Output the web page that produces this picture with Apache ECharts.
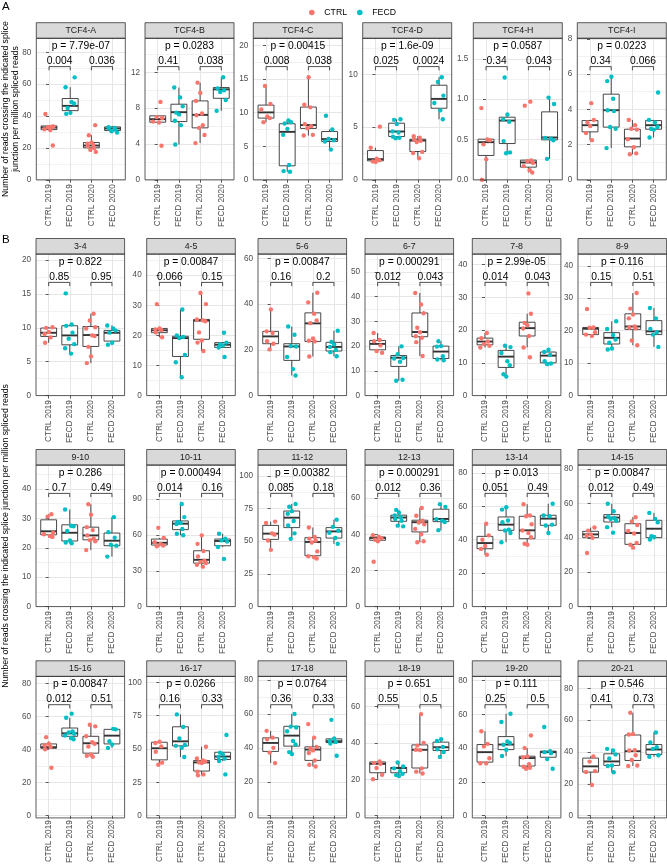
<!DOCTYPE html>
<html><head><meta charset="utf-8">
<script src="https://cdn.jsdelivr.net/npm/echarts@6/dist/echarts.min.js"></script>
<style>html,body{margin:0;padding:0;background:#fff}#c{width:667px;height:866px}</style>
</head><body><div id="c"></div>
<script>
// ---------------- DATA ----------------
const groups = ['CTRL 2019', 'FECD 2019', 'CTRL 2020', 'FECD 2020'];
const groupCond = ['CTRL', 'FECD', 'CTRL', 'FECD'];
const panelTitles = ['TCF4-A','TCF4-B','TCF4-C','TCF4-D','TCF4-H','TCF4-I',
  '3-4','4-5','5-6','6-7','7-8','8-9',
  '9-10','10-11','11-12','12-13','13-14','14-15',
  '15-16','16-17','17-18','18-19','19-20','20-21'];
const yMax = [88.8,15.8,21.1,13.45,1.756,8.03,
  20.9,47,61.9,57.2,43.2,43.6,
  48.1,118.6,108.2,78.3,84.6,82.3,
  84.2,104.5,82.1,76.5,82.4,87.5];
const yTicks = [[0,20,40,60,80],[0,4,8,12],[0,5,10,15,20],[0,5,10],[0,0.5,1,1.5],[0,2,4,6,8],
  [0,5,10,15,20],[0,10,20,30,40],[0,20,40,60],[0,10,20,30,40,50],[0,10,20,30,40],[0,10,20,30,40],
  [0,10,20,30,40],[0,30,60,90],[0,25,50,75,100],[0,20,40,60],[0,20,40,60,80],[0,20,40,60,80],
  [0,20,40,60,80],[0,25,50,75,100],[0,20,40,60,80],[0,20,40,60],[0,20,40,60,80],[0,20,40,60,80]];
const yTickDecimals = [0,0,0,0,1,0, 0,0,0,0,0,0, 0,0,0,0,0,0, 0,0,0,0,0,0];
const pOverall = ['p = 7.79e-07','p = 0.0283','p = 0.00415','p = 1.6e-09','p = 0.0587','p = 0.0223',
  'p = 0.822','p = 0.00847','p = 0.00847','p = 0.000291','p = 2.99e-05','p = 0.116',
  'p = 0.286','p = 0.000494','p = 0.00382','p = 0.000291','p = 0.013','p = 0.00847',
  'p = 0.00847','p = 0.0266','p = 0.0764','p = 0.651','p = 0.111','p = 0.546'];
const p2019 = ['0.004','0.41','0.008','0.025','0.34','0.34',
  '0.85','0.066','0.16','0.012','0.014','0.15',
  '0.7','0.014','0.085','0.012','0.051','0.012',
  '0.012','0.16','0.36','0.55','0.25','0.41'];
const p2020 = ['0.036','0.038','0.038','0.0024','0.043','0.066',
  '0.95','0.15','0.2','0.043','0.043','0.51',
  '0.49','0.16','0.18','0.36','0.49','0.49',
  '0.51','0.33','0.33','0.5','0.5','0.73'];

// box stats per group: [lower whisker, Q1, median, Q3, upper whisker]
const box_TCF4A = [[31.2,31.5,32.8,33.8,33.8],[41.4,43.4,46.4,51.0,58.1],[17.5,20.1,21.5,23.4,28.0],[29.7,30.9,32.2,33.2,33.8]];
const pts_TCF4A = [[41.3,33.4,33.2,33.5,31.7,31.2,21.5],[64.3,58.1,48.8,47.9,45.1,42.0,41.4],[34.3,28.0,23.5,22.7,21.8,21.0,19.9,18.9,17.5],[33.0,32.5,32.2,31.5,30.5,29.7]];
const box_TCF4B = [[6.4,6.43,6.77,7.14,7.2],[3.95,6.5,7.55,8.44,10.3],[4.1,5.8,7.25,8.81,10.85],[7.7,9.1,10.1,10.3,11.45]];
const pts_TCF4B = [[8.7,7.0,6.9,6.5,6.4,3.8],[10.3,9.2,8.2,7.5,7.3,6.6,6.1,3.95],[10.85,9.7,8.8,7.4,7.2,6.1,5.8,5.0,4.1],[11.45,10.2,10.0,9.8,8.9,7.7]];
const box_TCF4C = [[8.6,9.2,10.05,11.14,14.0],[1.2,2.09,7.15,8.36,8.85],[6.6,7.66,8.16,10.85,15.3],[4.5,5.72,6.07,7.2,7.5]];
const pts_TCF4C = [[14.0,11.3,10.5,9.45,9.2,8.6],[8.85,8.6,8.4,7.6,6.7,2.2,1.3,1.2],[15.3,11.2,10.8,8.3,8.0,7.7,6.7,6.6],[9.55,7.5,6.1,5.9,5.7,4.5]];
const box_TCF4D = [[1.7,1.8,1.96,2.78,3.05],[3.95,4.11,4.59,5.38,5.75],[2.05,2.69,3.73,3.86,4.15],[5.75,6.8,7.69,8.99,9.75]];
const pts_TCF4D = [[5.05,3.05,2.0,1.85,1.75,1.7],[5.75,5.7,5.3,4.6,4.5,4.1,4.0,3.95],[4.15,4.0,3.8,3.7,3.6,2.65,2.55,2.05],[9.75,9.3,8.0,7.3,6.6,5.75]];
const box_TCF4H = [[0.0,0.302,0.467,0.504,0.504],[0.33,0.45,0.735,0.777,0.81],[0.09,0.157,0.215,0.244,0.244],[0.26,0.496,0.525,0.843,1.02]];
const pts_TCF4H = [[0.89,0.5,0.49,0.44,0.256,0.0],[1.27,0.81,0.75,0.72,0.48,0.34,0.33],[0.97,0.92,0.24,0.23,0.21,0.17,0.12,0.09],[1.02,0.94,0.52,0.51,0.49,0.26]];
const box_TCF4I = [[2.25,2.72,3.1,3.36,3.4],[1.8,2.99,3.95,4.86,5.85],[1.45,1.87,2.34,2.87,3.4],[2.4,2.87,3.1,3.36,3.4]];
const pts_TCF4I = [[4.35,3.4,3.25,3.05,2.65,2.25],[5.85,5.6,4.6,3.95,3.9,3.0,2.9,1.8],[3.4,3.1,2.9,2.85,2.3,1.85,1.5,1.45],[4.95,3.4,3.25,3.0,2.9,2.85,2.4]];

const box_3_4 = [[7.8,8.74,9.28,9.98,10.1],[6.2,7.5,8.89,10.32,10.5],[4.8,7.26,8.94,10.2,12.1],[7.5,8.05,9.28,9.63,10.35]];
const pts_3_4 = [[10.1,10.0,9.4,9.1,8.6,7.8],[15.1,10.5,10.3,9.3,8.4,7.6,7.0,6.2],[12.1,11.1,10.1,9.9,8.9,8.8,7.2,5.8,4.8],[10.35,9.9,9.6,9.3,7.8,7.5]];
const box_4_5 = [[19.4,20.9,21.7,22.3,22.8],[6.1,13.0,19.1,19.7,28.6],[14.8,18.7,24.9,25.3,34.1],[16.0,16.0,16.9,17.6,17.8]];
const pts_4_5 = [[30.4,22.3,22.0,21.8,21.0,19.4],[28.6,20.0,19.5,19.1,13.5,11.1,6.1],[34.1,30.4,25.3,25.0,24.7,21.0,18.3,17.6,14.8],[20.9,17.6,17.1,16.6,16.0,12.8]];
const box_5_6 = [[20.2,22.7,25.9,28.1,37.7],[8.8,15.4,21.5,22.7,30.2],[17.1,23.7,31.6,36.2,45.0],[17.2,19.5,21.3,23.3,28.4]];
const pts_5_6 = [[37.7,28.1,27.4,23.8,22.7,20.2],[30.2,26.6,21.7,21.5,16.9,11.6,8.8],[45.0,40.8,35.8,32.9,31.7,25.0,24.0,23.7,17.1],[28.4,23.5,22.3,21.3,20.0,19.0,17.2]];
const box_6_7 = [[17.3,18.5,20.9,22.3,25.3],[6.0,11.8,15.3,16.2,19.9],[16.0,23.8,25.7,33.4,41.5],[14.3,15.0,17.8,20.0,22.0]];
const pts_6_7 = [[25.3,22.5,22.0,20.3,18.0,17.3],[19.9,16.7,15.2,15.0,13.7,6.4,6.0],[41.5,36.8,33.3,27.4,25.6,24.0,23.4,21.6,16.0],[22.0,20.0,19.8,15.9,14.6,14.3]];
const box_7_8 = [[14.7,15.5,16.5,17.55,19.1],[5.8,8.6,11.9,13.8,15.2],[14.7,18.2,20.6,22.4,25.0],[9.6,10.0,12.2,13.3,14.0]];
const pts_7_8 = [[19.1,17.5,16.5,15.8,15.2,14.7],[15.2,14.8,13.0,10.5,9.3,6.5,5.8],[31.2,25.0,22.2,21.5,20.5,18.2,14.7,11.7],[14.0,13.3,12.4,10.5,9.8,9.6]];
const box_8_9 = [[18.4,18.8,20.6,21.0,21.0],[14.2,15.9,17.8,19.4,22.9],[15.5,20.4,21.3,25.2,31.6],[15.0,18.8,19.8,23.1,27.0]];
const pts_8_9 = [[26.7,21.0,20.9,19.5,18.8,18.4],[22.9,20.5,18.7,17.3,16.3,14.5,14.2],[31.6,26.8,25.0,23.8,21.3,21.0,20.7,17.0,15.5],[27.0,23.8,20.5,19.5,18.8,15.0]];

const box_9_10 = [[23.7,24.4,25.6,29.5,31.4],[21.5,22.3,25.1,27.8,33.0],[19.2,22.7,24.2,27.0,34.8],[17.0,20.7,22.4,25.0,30.4]];
const pts_9_10 = [[31.4,30.6,25.1,24.6,24.0,23.7],[33.0,27.5,27.3,25.7,22.5,21.8,21.5],[34.8,31.2,27.0,26.0,24.2,23.2,22.6,22.2,19.2],[30.4,25.3,23.4,21.0,20.7,17.0]];
const box_10_11 = [[50.5,51.6,53.5,56.6,57.5],[59.8,64.5,69.5,71.8,86.0],[33.5,36.4,39.2,46.8,59.7],[50.0,51.0,55.0,56.6,61.0]];
const pts_10_11 = [[66.0,57.5,53.9,52.5,51.2,50.5],[86.0,75.0,71.0,70.0,69.2,65.0,61.1,59.8],[59.7,52.6,46.5,42.0,38.5,37.5,36.6,35.0,33.5],[61.0,57.0,55.5,54.5,50.0,40.0]];
const box_11_12 = [[43.4,51.4,55.8,62.1,65.0],[51.8,60.4,68.0,73.1,78.5],[36.8,38.9,49.4,52.7,60.5],[48.0,52.4,57.5,60.4,66.5]];
const pts_11_12 = [[65.0,64.0,56.0,55.0,50.6,43.4],[78.5,76.4,73.0,71.0,65.5,62.0,56.0,51.8],[60.5,53.2,52.0,50.6,49.0,42.2,38.5,37.7,36.8],[66.5,61.0,58.0,56.5,52.5,48.0]];
const box_12_13 = [[36.2,36.7,38.0,38.5,39.5],[44.4,47.2,49.3,50.6,53.5],[35.6,41.3,46.7,47.8,54.6],[42.3,47.0,48.5,53.9,56.7]];
const pts_12_13 = [[39.5,38.5,37.8,37.0,36.2,24.8],[53.5,52.0,50.5,49.5,48.5,47.5,44.8,44.4],[54.6,50.3,47.5,46.5,45.5,43.0,40.0,36.2,35.6],[56.7,55.2,48.4,47.6,46.8,42.3]];
const box_13_14 = [[31.0,34.6,38.0,42.0,49.5],[38.5,45.6,49.0,53.6,59.4],[37.0,40.6,45.6,54.0,61.2],[44.0,48.6,52.6,54.6,61.5]];
const pts_13_14 = [[49.5,42.6,40.0,36.2,34.5,31.0],[59.4,58.0,51.5,50.4,46.0,45.5,44.0,38.5],[61.2,54.5,54.0,49.2,45.5,44.0,41.5,37.6,37.0],[61.5,54.5,54.0,49.0,48.5,44.0]];
const box_14_15 = [[40.0,40.1,42.0,43.8,46.0],[46.2,49.2,51.8,53.5,59.8],[34.3,36.2,42.8,48.2,52.0],[39.0,40.1,45.3,50.2,54.5]];
const pts_14_15 = [[46.0,44.2,42.0,41.2,40.0,31.2],[59.8,55.5,52.4,51.5,51.0,50.0,46.2,43.0],[52.0,49.5,47.5,44.0,42.5,37.0,36.0,34.3],[54.5,51.0,49.0,41.0,40.5,39.0]];

const box_15_16 = [[40.2,40.8,41.4,43.4,44.8],[46.2,48.0,49.8,53.0,59.2],[35.6,37.8,43.8,48.0,55.0],[41.0,43.4,48.4,52.2,52.5]];
const pts_15_16 = [[47.5,43.5,42.5,41.6,40.2,29.0],[61.7,59.2,51.0,50.3,49.5,48.5,47.0,46.2],[55.0,54.0,48.0,44.5,43.5,41.8,37.0,36.2,35.6],[52.5,52.2,45.0,43.0,41.0]];
const box_16_17 = [[38.2,41.9,50.6,55.1,55.5],[44.0,52.4,55.8,66.7,76.0],[30.3,33.5,40.0,41.4,51.7],[41.0,42.2,44.4,47.6,47.3]];
const pts_16_17 = [[55.5,54.5,52.0,48.0,39.8,38.2],[76.0,66.5,58.0,53.0,52.4,51.0,44.0],[51.7,43.0,41.5,40.8,40.0,39.5,33.0,31.0,30.3],[60.5,47.3,46.0,44.0,42.8,41.0,31.0]];
const box_17_18 = [[31.0,37.9,42.9,45.9,50.0],[36.3,41.0,47.2,52.7,60.0],[29.0,32.6,39.0,40.6,46.0],[42.5,43.1,43.9,45.3,45.5]];
const pts_17_18 = [[50.0,46.0,45.0,40.0,37.2,31.0],[60.0,52.5,52.0,49.8,44.0,42.0,37.5,36.3],[54.0,46.0,40.5,39.8,38.5,37.0,32.5,30.0,29.0],[56.5,45.5,44.0,43.5,42.5,35.3]];
const box_18_19 = [[20.0,23.6,28.5,29.5,29.8],[21.8,23.6,26.2,26.5,29.2],[23.2,26.2,36.2,38.9,55.8],[32.3,35.8,37.6,40.4,42.0]];
const pts_18_19 = [[29.8,29.0,28.5,26.2,22.5,20.0],[29.2,27.0,26.0,24.5,23.0,22.3,21.8],[55.8,40.0,38.5,36.0,36.2,26.0,24.2,23.2],[42.0,41.0,37.8,36.5,35.0,32.3]];
const box_19_20 = [[31.0,31.7,37.6,42.1,50.0],[35.3,39.1,42.1,46.8,60.3],[27.8,29.4,34.1,35.2,40.0],[33.5,34.6,37.6,38.2,38.2]];
const pts_19_20 = [[50.0,42.5,41.0,34.0,31.0,31.0],[60.3,55.5,44.0,43.0,42.0,39.0,35.3],[47.5,40.0,35.0,34.5,30.5,29.0,28.3,27.8],[52.5,38.2,37.6,37.0,33.5,27.8]];
const box_20_21 = [[19.3,27.4,31.0,36.2,37.3],[27.3,31.6,34.1,38.9,42.0],[31.2,34.7,40.5,50.7,64.7],[37.0,38.5,41.6,44.7,52.3]];
const pts_20_21 = [[37.3,34.0,28.0,27.5,19.3],[42.0,41.0,38.5,36.0,31.6,31.3,27.3],[64.7,51.3,51.0,41.2,41.0,38.0,35.0,31.5,31.2],[52.3,46.0,43.0,42.0,38.0,37.0]];

const boxes = [box_TCF4A,box_TCF4B,box_TCF4C,box_TCF4D,box_TCF4H,box_TCF4I,
  box_3_4,box_4_5,box_5_6,box_6_7,box_7_8,box_8_9,
  box_9_10,box_10_11,box_11_12,box_12_13,box_13_14,box_14_15,
  box_15_16,box_16_17,box_17_18,box_18_19,box_19_20,box_20_21];
const points = [pts_TCF4A,pts_TCF4B,pts_TCF4C,pts_TCF4D,pts_TCF4H,pts_TCF4I,
  pts_3_4,pts_4_5,pts_5_6,pts_6_7,pts_7_8,pts_8_9,
  pts_9_10,pts_10_11,pts_11_12,pts_12_13,pts_13_14,pts_14_15,
  pts_15_16,pts_16_17,pts_17_18,pts_18_19,pts_19_20,pts_20_21];
// horizontal jitter pattern (deterministic)
const jitter = [-0.17, 0.13, -0.05, 0.21, -0.22, 0.06, 0.18, -0.12, 0.01, -0.19, 0.09];

// ---------------- LAYOUT ----------------
const FONT = '"Liberation Sans", Arial, Helvetica, sans-serif';
const COLORS = { CTRL: '#F8766D', FECD: '#00BFC4' };
const STRIP_H = 15.6, PLOT_H = 141.5;
const rowStripTop = [22.7, 238.5, 449.5, 660.8];
const rowLefts = [[36.3,145,253.3,362.7,473.3,577.3],[36,146.7,258,365,472.3,578],[36,146.7,258,365,472.3,578],[36,146.7,258,365,472.3,578]];
const rowWidth = [89, 88.6, 88.6, 88.6];

const option = {
  animation: false,
  backgroundColor: '#fff',
  textStyle: { fontFamily: FONT },
  legend: {
    data: ['CTRL', 'FECD'], left: 304, top: 3, icon: 'circle',
    itemWidth: 15, itemHeight: 5.6, itemGap: 10, selectedMode: false,
    textStyle: { fontSize: 8.7, color: '#000', fontFamily: FONT }
  },
  grid: [], xAxis: [], yAxis: [], series: [], graphic: []
};

const gfx = [];
gfx.push({ type: 'text', left: 2, top: 1, style: { text: 'A', fontSize: 11.5, fill: '#000', fontFamily: FONT } });
gfx.push({ type: 'text', left: 2, top: 233.5, style: { text: 'B', fontSize: 11.5, fill: '#000', fontFamily: FONT } });
gfx.push({ type: 'text', x: 6, y: rowStripTop[0] + STRIP_H + PLOT_H / 2, rotation: Math.PI / 2,
  style: { text: 'Number of reads crossing the indicated splice', fontSize: 8.7, fill: '#000', fontFamily: FONT, align: 'center', verticalAlign: 'middle' } });
gfx.push({ type: 'text', x: 15.8, y: rowStripTop[0] + STRIP_H + PLOT_H / 2, rotation: Math.PI / 2,
  style: { text: 'junction per million spliced reads', fontSize: 8.7, fill: '#000', fontFamily: FONT, align: 'center', verticalAlign: 'middle' } });
const bTop = rowStripTop[1] + STRIP_H, bBottom = rowStripTop[3] + STRIP_H + PLOT_H;
gfx.push({ type: 'text', x: 5.5, y: (bTop + bBottom) / 2, rotation: Math.PI / 2,
  style: { text: 'Number of reads crossing the indicated splice junction per million spliced reads', fontSize: 8.7, fill: '#000', fontFamily: FONT, align: 'center', verticalAlign: 'middle' } });

for (let p = 0; p < 24; p++) {
  const row = Math.floor(p / 6), col = p % 6;
  const left = rowLefts[row][col], width = rowWidth[row];
  const stripTop = rowStripTop[row];
  const top = stripTop + STRIP_H;
  const ticks = yTicks[p];
  const step = ticks[1] - ticks[0];
  const minors = ticks.map(t => t + step / 2).filter(v => v < yMax[p]);
  const dec = yTickDecimals[p];

  option.grid.push({ left: left, top: top, width: width, height: PLOT_H, show: true, backgroundColor: '#fff', borderWidth: 0 });
  option.xAxis.push({
    type: 'value', gridIndex: p, min: -0.6, max: 3.6,
    axisLine: { show: false },
    axisTick: { show: true, length: 3, customValues: [0, 1, 2, 3], lineStyle: { color: '#333', width: 0.8 } },
    axisLabel: { customValues: [0, 1, 2, 3], rotate: 90, margin: 4.5, fontSize: 8.2, color: '#4D4D4D', fontFamily: FONT,
      formatter: v => groups[Math.round(v)] },
    splitLine: { show: true, lineStyle: { color: '#E6E6E6', width: 1 } }
  });
  option.yAxis.push({
    type: 'value', gridIndex: p, min: 0, max: yMax[p],
    axisLine: { show: false },
    axisTick: { show: true, length: 3, customValues: ticks, lineStyle: { color: '#333', width: 0.8 } },
    axisLabel: { customValues: ticks, margin: 5, fontSize: 8.2, color: '#4D4D4D', fontFamily: FONT,
      formatter: v => dec ? v.toFixed(dec) : String(v) },
    splitLine: { show: true, lineStyle: { color: '#E6E6E6', width: 1 } }
  });
  const minorAxisIndex = option.yAxis.length;
  option.yAxis.push({
    type: 'value', gridIndex: p, min: 0, max: yMax[p], position: 'left',
    axisLine: { show: false },
    axisTick: { show: false, customValues: minors },
    axisLabel: { show: false },
    splitLine: { show: true, lineStyle: { color: '#EFEFEF', width: 0.8 } }
  });
  const yIdx = minorAxisIndex - 1;

  // boxes
  option.series.push({
    type: 'custom', xAxisIndex: p, yAxisIndex: yIdx, z: 3,
    data: boxes[p].map((b, g) => [g, b[0], b[1], b[2], b[3], b[4]]),
    encode: { x: 0, y: [1, 2, 3, 4, 5] },
    renderItem: (params, api) => {
      const x = api.value(0);
      const w = api.size([0.75, 0])[0];
      const pMin = api.coord([x, api.value(1)]);
      const pQ1 = api.coord([x, api.value(2)]);
      const pMed = api.coord([x, api.value(3)]);
      const pQ3 = api.coord([x, api.value(4)]);
      const pMax = api.coord([x, api.value(5)]);
      const st = { stroke: '#333', lineWidth: 0.9 };
      return { type: 'group', children: [
        { type: 'line', shape: { x1: pMin[0], y1: pMin[1], x2: pQ1[0], y2: pQ1[1] }, style: st },
        { type: 'line', shape: { x1: pQ3[0], y1: pQ3[1], x2: pMax[0], y2: pMax[1] }, style: st },
        { type: 'rect', shape: { x: pQ1[0] - w / 2, y: pQ3[1], width: w, height: pQ1[1] - pQ3[1] }, style: { fill: '#fff', stroke: '#333', lineWidth: 0.9 } },
        { type: 'line', shape: { x1: pMed[0] - w / 2, y1: pMed[1], x2: pMed[0] + w / 2, y2: pMed[1] }, style: { stroke: '#333', lineWidth: 1.9 } }
      ] };
    }
  });
  // points
  ['CTRL', 'FECD'].forEach(cond => {
    const data = [];
    points[p].forEach((arr, g) => {
      if (groupCond[g] !== cond) return;
      arr.forEach((v, i) => data.push([g + jitter[(i + g * 3 + p) % jitter.length], v]));
    });
    option.series.push({
      type: 'scatter', name: cond, xAxisIndex: p, yAxisIndex: yIdx, z: 4,
      symbolSize: 4.4, itemStyle: { color: COLORS[cond], opacity: 1 },
      clip: false, data: data
    });
  });
  // annotations
  option.series.push({
    type: 'custom', xAxisIndex: p, yAxisIndex: yIdx, z: 5, clip: false, silent: true,
    data: [[1.5, yMax[p]]],
    renderItem: ((pi) => (params, api) => {
      const topY = api.coord([1.5, yMax[pi]])[1];
      const cx = api.coord([1.5, 0])[0];
      const xs = [0, 1, 2, 3].map(g => api.coord([g, 0])[0]);
      const tSt = (t, x, y) => ({ type: 'text', style: { text: t, x: x, y: y, align: 'center', verticalAlign: 'middle', fontSize: 10.3, fill: '#000', fontFamily: FONT } });
      const br = (a, b) => ({ type: 'polyline', shape: { points: [[a, topY + 32], [a, topY + 28.3], [b, topY + 28.3], [b, topY + 32]] }, style: { stroke: '#222', lineWidth: 0.8, fill: null } });
      return { type: 'group', children: [
        tSt(pOverall[pi], cx, topY + 8.2),
        br(xs[0], xs[1]), br(xs[2], xs[3]),
        tSt(p2019[pi], (xs[0] + xs[1]) / 2, topY + 22.6),
        tSt(p2020[pi], (xs[2] + xs[3]) / 2, topY + 22.6)
      ] };
    })(p)
  });

  // strip + border
  gfx.push({ type: 'rect', shape: { x: left, y: stripTop, width: width, height: STRIP_H }, style: { fill: '#D9D9D9', stroke: '#333', lineWidth: 0.8 }, z: 10 });
  gfx.push({ type: 'text', x: left + width / 2, y: stripTop + STRIP_H / 2 + 0.3, z: 11,
    style: { text: panelTitles[p], fontSize: 8.8, fill: '#1A1A1A', fontFamily: FONT, align: 'center', verticalAlign: 'middle' } });
  gfx.push({ type: 'rect', shape: { x: left, y: top, width: width, height: PLOT_H }, style: { fill: null, stroke: '#333', lineWidth: 0.8 }, z: 10, silent: true });
}
option.graphic = gfx;

const chart = echarts.init(document.getElementById('c'), null, { renderer: 'canvas' });
chart.setOption(option);
</script></body></html>
